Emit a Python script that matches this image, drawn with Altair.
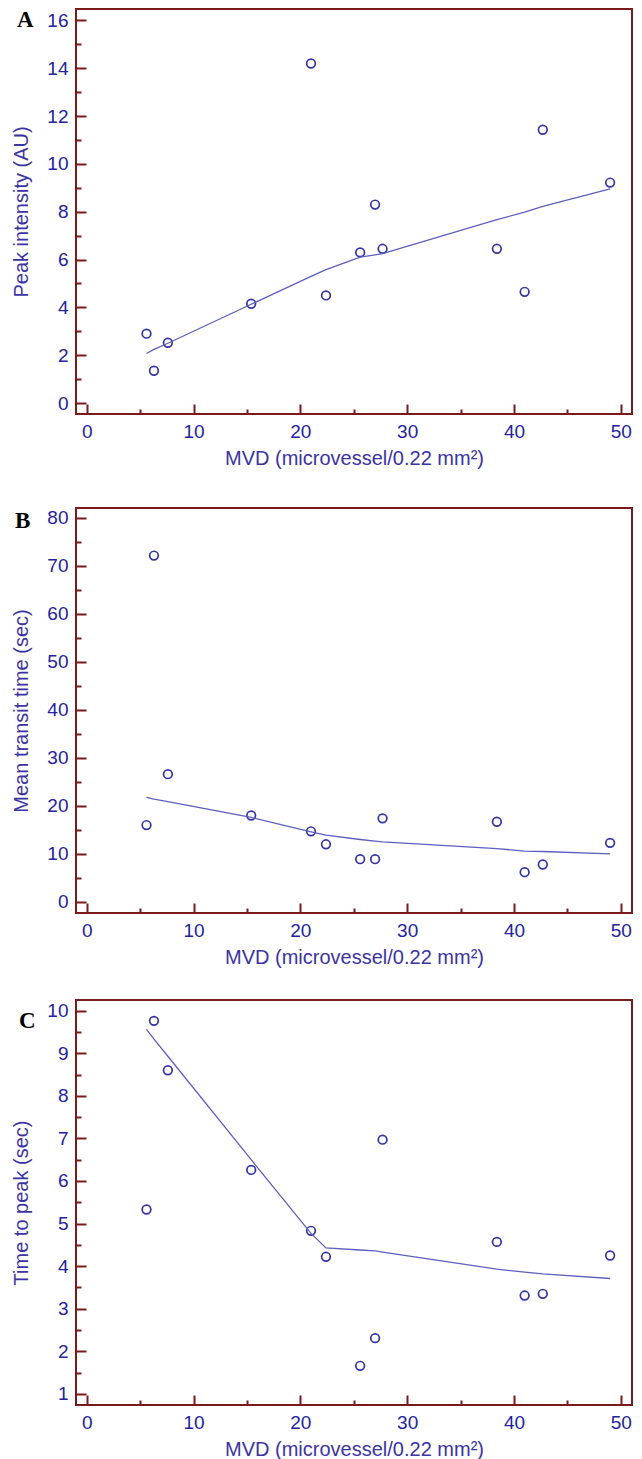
import altair as alt
import pandas as pd

# ---- data ----
MVD = [5.6, 6.3, 7.6, 15.4, 21.0, 22.4, 25.6, 27.0, 27.7, 38.4, 41.0, 42.7, 49.0]

peak_intensity = [2.9, 1.35, 2.52, 4.15, 14.2, 4.5, 6.3, 8.3, 6.45, 6.45, 4.65, 11.43, 9.22]
peak_intensity_fit = [2.07, 2.24, 2.5, 4.13, 5.3, 5.58, 6.1, 6.2, 6.25, 7.67, 7.98, 8.22, 8.96]

mean_transit = [16.0, 72.1, 26.6, 18.0, 14.7, 12.0, 8.9, 8.9, 17.4, 16.7, 6.2, 7.8, 12.3]
mean_transit_fit = [21.75, 21.4, 20.9, 17.6, 14.6, 13.9, 13.0, 12.65, 12.5, 11.1, 10.6, 10.5, 10.0]

time_to_peak = [5.33, 9.76, 8.6, 6.26, 4.83, 4.22, 1.66, 2.31, 6.97, 4.57, 3.31, 3.35, 4.25]
time_to_peak_fit = [9.56, 9.33, 8.93, 6.5, 4.77, 4.43, 4.38, 4.36, 4.33, 3.93, 3.86, 3.82, 3.71]

X_MAJOR = [0, 10, 20, 30, 40, 50]
X_MINOR = [5, 15, 25, 35, 45]
X_TITLE = "MVD (microvessel/0.22 mm²)"

A_MAJOR = [0, 2, 4, 6, 8, 10, 12, 14, 16]
A_MINOR = [1, 3, 5, 7, 9, 11, 13, 15]
B_MAJOR = [0, 10, 20, 30, 40, 50, 60, 70, 80]
B_MINOR = [5, 15, 25, 35, 45, 55, 65, 75]
C_MAJOR = [1, 2, 3, 4, 5, 6, 7, 8, 9, 10]
C_MINOR = [1.5, 2.5, 3.5, 4.5, 5.5, 6.5, 7.5, 8.5, 9.5]

# ---- style ----
FRAME = "#7b1a1a"
LABEL_C = "#2323a0"
TITLE_C = "#3b33a3"
POINT_C = "#3434a6"
LINE_C = "#5e5ec0"
FONT = "Liberation Sans"
W, H = 556, 405
X_DOM = [-1.0, 51.05]


def panel(yvals, fit, ymaj, ymin, ydom, ytitle, letter, lx, ly):
    df = pd.DataFrame({"x": MVD, "y": yvals, "fit": fit})
    xs = alt.Scale(domain=X_DOM, nice=False, zero=False)
    ys = alt.Scale(domain=ydom, nice=False, zero=False)
    base = alt.Chart(df)

    pts = base.mark_point(shape="circle", filled=False, size=75, strokeWidth=1.7,
                          color=POINT_C, opacity=1).encode(
        x=alt.X("x:Q", scale=xs, axis=alt.Axis(
            orient="bottom", values=X_MAJOR, format="d", ticks=False, domain=False,
            grid=False, labelPadding=8, labelFontSize=19, labelColor=LABEL_C,
            labelFont=FONT, title=X_TITLE, titleFontSize=20, titleColor=TITLE_C,
            titleFont=FONT, titleFontWeight="normal", titleY=50,
            titleBaseline="alphabetic")),
        y=alt.Y("y:Q", scale=ys, axis=alt.Axis(
            orient="left", values=ymaj, format="d", ticks=False, domain=False,
            grid=False, labelPadding=8, labelFontSize=19, labelColor=LABEL_C,
            labelFont=FONT, title=ytitle, titleFontSize=20, titleColor=TITLE_C,
            titleFont=FONT, titleFontWeight="normal", titleX=-49, titleY=H / 2,
            titleAngle=270, titleAlign="center", titleBaseline="alphabetic")),
    )

    line = base.mark_line(color=LINE_C, strokeWidth=1.3).encode(
        x=alt.X("x:Q", scale=xs, axis=alt.Axis(
            orient="bottom", values=X_MAJOR, labels=False, domain=False, grid=False,
            ticks=True, tickSize=10, offset=-10, tickColor=FRAME, tickWidth=2,
            title=None)),
        y=alt.Y("fit:Q", scale=ys, axis=alt.Axis(
            orient="left", values=ymaj, labels=False, domain=False, grid=False,
            ticks=True, tickSize=10, offset=-10, tickColor=FRAME, tickWidth=2,
            title=None)),
    )

    minor = base.mark_point(opacity=0).encode(
        x=alt.X("x:Q", scale=xs, axis=alt.Axis(
            orient="bottom", values=X_MINOR, labels=False, domain=False, grid=False,
            ticks=True, tickSize=5, offset=-5, tickColor=FRAME, tickWidth=2,
            title=None)),
        y=alt.Y("y:Q", scale=ys, axis=alt.Axis(
            orient="left", values=ymin, labels=False, domain=False, grid=False,
            ticks=True, tickSize=5, offset=-5, tickColor=FRAME, tickWidth=2,
            title=None)),
    )

    lab = alt.Chart(pd.DataFrame({"t": [letter]})).mark_text(
        font="Liberation Serif", fontWeight="bold", fontSize=23, color="black",
        align="left", baseline="alphabetic").encode(
        text="t:N", x=alt.value(lx), y=alt.value(ly))

    return alt.layer(pts, line, minor, lab).resolve_axis(
        x="independent", y="independent").properties(width=W, height=H)


pa = panel(peak_intensity, peak_intensity_fit, A_MAJOR, A_MINOR, [-0.46, 16.48],
           "Peak intensity (AU)", "A", -59, 18)
pb = panel(mean_transit, mean_transit_fit, B_MAJOR, B_MINOR, [-2.3, 82.0],
           "Mean transit time (sec)", "B", -61, 20)
pc = panel(time_to_peak, time_to_peak_fit, C_MAJOR, C_MINOR, [0.74, 10.25],
           "Time to peak (sec)", "C", -57, 28)

chart = alt.vconcat(pa, alt.vconcat(pb, pc, spacing=31), spacing=38).properties(
    padding={"left": 2, "top": 0, "right": 0, "bottom": 0}
).configure_view(stroke=FRAME, strokeWidth=2)

chart.save("out.html", embed_options={"renderer": "svg", "actions": False})
